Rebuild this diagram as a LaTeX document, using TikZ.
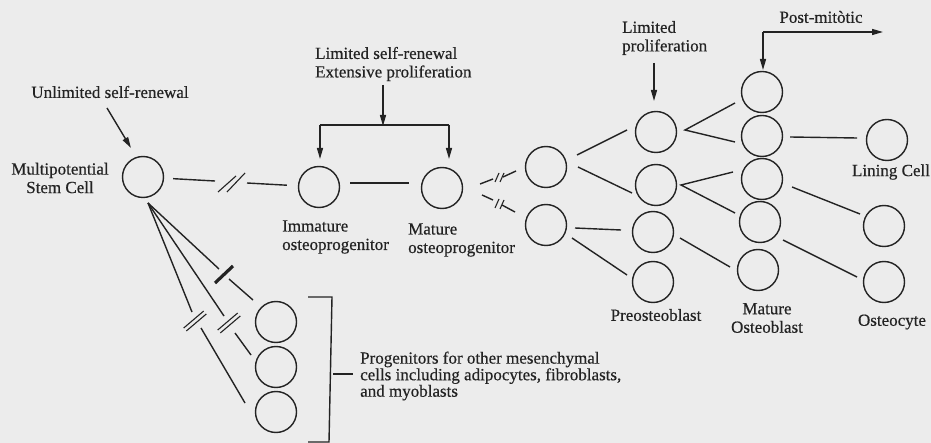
\documentclass[tikz,border=0pt]{standalone}
\usepackage{fontspec}
\setmainfont{Liberation Serif}[FakeBold=0.5]
\newfontfamily\inkfont{Liberation Serif}[FakeBold=0.5]
\usetikzlibrary{arrows.meta}
\definecolor{bg}{RGB}{236,236,236}
\definecolor{ink}{RGB}{35,35,35}
\begin{document}
\begin{tikzpicture}[x=1pt,y=-1pt,
  cell/.style={circle,draw=ink,line width=1.4pt,minimum size=41pt,inner sep=0pt},
  link/.style={draw=ink,line width=1.4pt},
  tick/.style={draw=ink,line width=1.1pt},
  heavytick/.style={draw=ink,line width=3.2pt},
  arr/.style={draw=ink,line width=1.4pt,-{Triangle[length=11pt,width=6pt]}},
  lbl/.style={text=ink,inner sep=0pt,font=\inkfont\fontsize{17}{18.5}\selectfont},
]
\fill[bg] (0,0) rectangle (931,443);
\useasboundingbox (0,0) rectangle (931,443);

% cells
\node[cell] (stem) at (143,177) {};
\node[cell] (imm) at (319,187) {};
\node[cell] (mat) at (442,188) {};
\node[cell] (bu) at (546,167) {};
\node[cell] (bl) at (546,225) {};
\node[cell] (p1) at (656,132) {};
\node[cell] (p2) at (656,185) {};
\node[cell] (p3) at (653,232) {};
\node[cell] (p4) at (653,282) {};
\node[cell] (m1) at (762,92) {};
\node[cell] (m2) at (762,136) {};
\node[cell] (m3) at (762,179) {};
\node[cell] (m4) at (760,222) {};
\node[cell] (m5) at (758,270) {};
\node[cell] (r1) at (887,140) {};
\node[cell] (r2) at (884,226) {};
\node[cell] (r3) at (884,282) {};
\node[cell] (g1) at (276,322) {};
\node[cell] (g2) at (276,367) {};
\node[cell] (g3) at (276,412) {};

% labels
\node[lbl] (tU) at (110,92) {Unlimited self-renewal};
\node[lbl,align=center] (tS) at (60,178) {Multipotential\\Stem Cell};
\node[lbl,align=left,anchor=west] (tL) at (315,64) {Limited self-renewal\\Extensive proliferation};
\node[lbl,align=left,anchor=west] (tI) at (282,237) {Immature\\osteoprogenitor};
\node[lbl,align=left,anchor=west] (tM) at (408,240) {Mature\\osteoprogenitor};
\node[lbl,align=left,anchor=west] (tP) at (622,38) {Limited\\proliferation};
\node[lbl] (tPM) at (821,17) {Post-mitòtic};
\node[lbl] (tLC) at (891,172) {Lining Cell};
\node[lbl] (tPre) at (656,315) {Preosteoblast};
\node[lbl,align=center] (tMO) at (767,318) {Mature\\Osteoblast};
\node[lbl] (tO) at (892,322) {Osteocyte};
\node[lbl,align=left,anchor=west,font=\inkfont\fontsize{17}{14.5}\selectfont] (tG) at (360,376)
  {Progenitors for other mesenchymal\\cells including adipocytes, fibroblasts,\\and myoblasts};

% arrows from labels
\coordinate (aU1) at (107,108); \coordinate (aU2) at (131,148);
\draw[arr] (aU1) -- (aU2);
\coordinate (aL1) at (383,85); \coordinate (aL2) at (383,126);
\coordinate (bL) at (320,125); \coordinate (bR) at (449,125);
\draw[link] (bL) -- (bR);
\draw[arr] (bL) -- (320,159);
\draw[arr] (bR) -- (449,159);
\draw[arr] (aL1) -- (aL2);
\coordinate (aP1) at (654,63); \coordinate (aP2) at (654,101);
\draw[arr] (aP1) -- (aP2);
\coordinate (aM) at (763,32);
\draw[arr] (aM) -- (763,70);
\draw[arr] (aM) -- (883,32);

% stem -> immature with break
\coordinate (s1a) at (215,181); \coordinate (s1b) at (247,183);
\draw[link,shorten <=9pt] (stem) -- (s1a);
\draw[link,shorten >=11pt] (s1b) -- (imm);
\draw[tick] (218,192) -- (236,176);
\draw[tick] (227,192) -- (245,173);

% immature -> mature
\draw[link] (350,183) -- (409,183);

% mature -> branch cells with breaks
\draw[link] (480,184) -- (493,179);
\draw[tick] (495,182) -- (499,173);
\draw[tick] (500,182) -- (504,173);
\draw[link] (503,177) -- (516,171);
\draw[link] (482,195) -- (493,200);
\draw[tick] (495,208) -- (499,199);
\draw[tick] (500,209) -- (504,200);
\draw[link] (502,205) -- (515,212);

% branch -> preosteoblast
\draw[link] (577,155) -- (627,130);
\draw[link] (578,167) -- (632,193);
\draw[link] (575,228) -- (621,230);
\draw[link] (572,238) -- (627,275);

% preosteoblast -> mature osteoblast
\coordinate (v1) at (685,130);
\draw[link] (735,103) -- (v1) -- (735,142);
\coordinate (v2) at (681,185);
\draw[link] (733,172) -- (v2) -- (735,213);
\draw[link] (680,238) -- (730,267);

% mature osteoblast -> lining / osteocytes
\draw[link] (790,137) -- (857,138);
\draw[link] (792,187) -- (860,214);
\draw[link] (783,240) -- (857,277);

% fan to other progenitors
\coordinate (apex) at (148,203);
\draw[link] (apex) -- (219,269);
\draw[link] (229,279) -- (253,300);
\draw[heavytick] (215,283) -- (233,266);
\draw[link] (apex) -- (224,316);
\draw[link] (235,333) -- (251,355);
\draw[tick] (217.7,330) -- (237.7,313);
\draw[tick] (220.3,333) -- (240.3,316);
\draw[link] (apex) -- (192,312);
\draw[link] (201,328) -- (245,403);
\draw[tick] (183.7,328) -- (203.7,311);
\draw[tick] (186.3,331) -- (206.3,314);

% bracket
\draw[link] (308,297) -- (332,297) -- (329,442) -- (308,442);
\draw[link] (333,374) -- (353,374);
\end{tikzpicture}
\end{document}
